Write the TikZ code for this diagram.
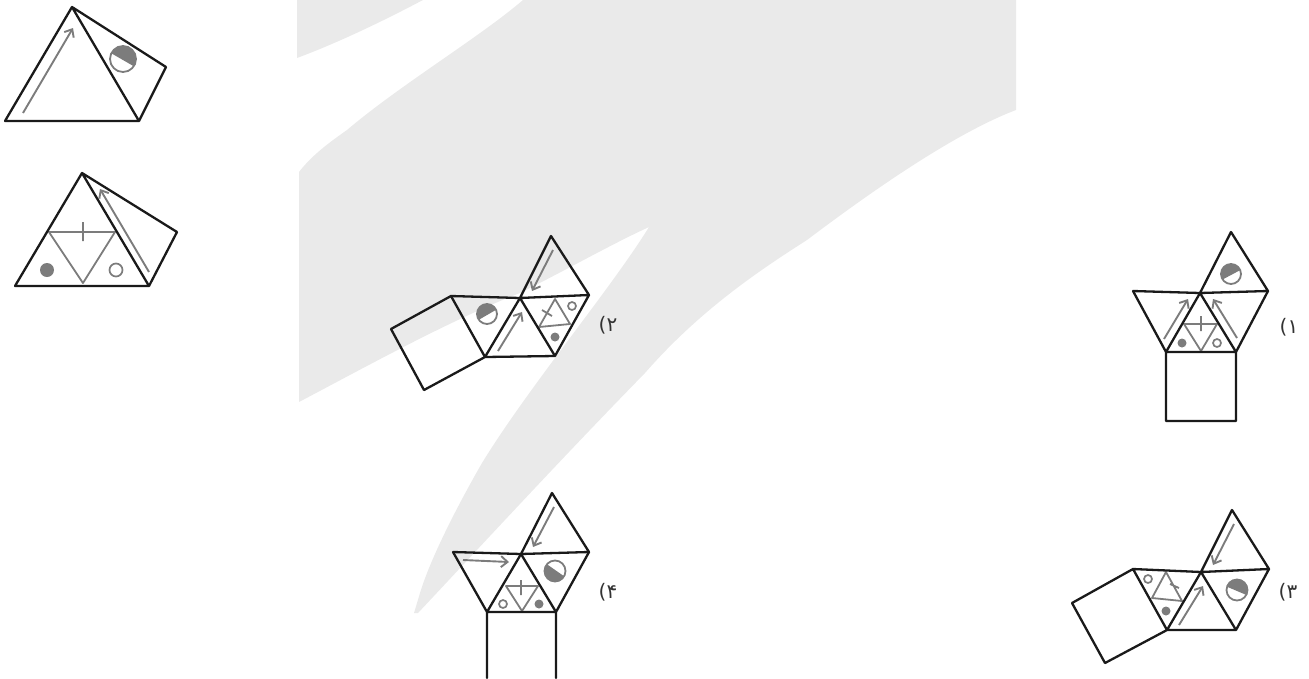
\documentclass[tikz,border=0pt]{standalone}
\usepackage{fontspec}
\usetikzlibrary{arrows.meta}
\newfontfamily\arabicfont[Script=Arabic]{DejaVu Sans}
\TeXXeTstate=1
\definecolor{bgband}{HTML}{EAEAEA}
\definecolor{ink}{HTML}{1A1A1A}
\definecolor{markgray}{HTML}{7C7C7C}
\tikzset{
  figedge/.style={draw=ink,line width=2.3pt,line join=round,line cap=round},
  markline/.style={draw=markgray,line width=1.8pt,line join=round},
  flow/.style={draw=markgray,line width=1.9pt,-{Straight Barb[length=6.5pt,width=11pt,line width=1.9pt]}},
  optlabel/.style={font=\arabicfont\fontsize{20}{20}\selectfont,text=black!80,inner sep=0pt}
}
% half disc: centre, radius, start angle (clockwise on screen)
\newcommand{\hdisc}[4]{%
  \fill[markgray] (#1,#2) ++(#4:#3) arc[start angle=#4,delta angle=180,radius=#3] -- cycle;
  \draw[markgray,line width=1.8pt] (#1,#2) circle[radius=#3];
  \draw[markgray,line width=1.8pt] (#1,#2) ++(#4:#3) -- ++(#4+180:2*#3);
}
\newcommand{\sdot}[3]{\fill[markgray] (#1,#2) circle[radius=#3];}
\newcommand{\ringdot}[3]{\draw[markgray,line width=1.7pt] (#1,#2) circle[radius=#3];}
\begin{document}
\begin{tikzpicture}[x=1pt,y=-1pt]
\useasboundingbox (0,0) rectangle (1309,678);
% background
\fill[bgband] (297,0) -- (297,58) .. controls (340,42) and (385,20) .. (423,0) -- cycle;
\fill[bgband] (523,0) .. controls (480,37) and (400,85) .. (347,130)
  .. controls (330,142) and (312,155) .. (299,172) -- (299,402)
  .. controls (360,370) and (450,320) .. (520,293)
  .. controls (570,268) and (610,245) .. (649,227)
  .. controls (610,290) and (530,385) .. (482,463)
  .. controls (455,510) and (430,560) .. (420,593) -- (414,613) -- (418,613)
  .. controls (480,547) and (560,460) .. (645,373)
  .. controls (700,310) and (760,270) .. (807,240)
  .. controls (860,200) and (950,135) .. (1016,110) -- (1016,0) -- cycle;
% stem figure 1
\coordinate (sa) at (72,7); \coordinate (sl) at (5,121); \coordinate (sr) at (139,121); \coordinate (sf) at (166,67);
\draw[flow] (23,113) -- (73,28);
\hdisc{123}{59}{13}{210}
\draw[figedge] (sa) -- (sl) -- (sr) -- cycle (sa) -- (sf) -- (sr);
% stem figure 2
\coordinate (ta) at (82,173); \coordinate (tl) at (15,286); \coordinate (tr) at (149,286); \coordinate (tf) at (177,232);
\draw[markline] (49,232) -- (115,232) -- (83,283) -- cycle (83,222) -- (83,241);
\sdot{47}{270}{7} \ringdot{116}{270}{6.5}
\draw[flow] (149,272) -- (100,189);
\draw[figedge] (ta) -- (tl) -- (tr) -- cycle (ta) -- (tf) -- (tr);
% option 1
\coordinate (a1) at (1231,232); \coordinate (r1) at (1268,291); \coordinate (c1) at (1200,293); \coordinate (l1) at (1133,291);
\coordinate (bl1) at (1166,352); \coordinate (br1) at (1236,352); \coordinate (ql1) at (1166,421); \coordinate (qr1) at (1236,421);
\draw[markline] (1184,324) -- (1217,324) -- (1201,351) -- cycle (1201,316) -- (1201,331);
\sdot{1182}{343}{4.5} \ringdot{1217}{343}{4}
\hdisc{1231}{274}{10}{152}
\draw[flow] (1164,339) -- (1188,299);
\draw[flow] (1237,338) -- (1213,299);
\draw[figedge] (l1) -- (c1) -- (r1) -- (a1) -- (c1) -- (bl1) -- (br1) -- (c1) (l1) -- (bl1) -- (ql1) -- (qr1) -- (br1) -- (r1);
\node[optlabel] (o1) at (1289,327) {\beginR ۱)\endR};
% option 2
\coordinate (a2) at (551,236); \coordinate (c2) at (520,298); \coordinate (r2) at (589,295); \coordinate (bl2) at (485,357); \coordinate (br2) at (555,356);
\coordinate (ul2) at (451,296); \coordinate (s12) at (391,329); \coordinate (s22) at (424,390);
\draw[markline] (555,299) -- (539,327) -- (570,324) -- cycle (542,310) -- (552,316);
\ringdot{572}{306}{4} \sdot{555}{337}{4.5}
\hdisc{487}{314}{10}{150}
\draw[flow] (498,351) -- (522,312);
\draw[flow] (553,250) -- (532,291);
\draw[figedge] (c2) -- (a2) -- (r2) -- (c2) -- (ul2) -- (s12) -- (s22) -- (bl2) -- (ul2) (bl2) -- (c2) -- (br2) -- (bl2) (br2) -- (r2);
\node[optlabel] (o2) at (608,325) {\beginR ۲)\endR};
% option 3
\coordinate (a3) at (1232,510); \coordinate (c3) at (1201,572); \coordinate (r3) at (1269,569); \coordinate (bl3) at (1167,630); \coordinate (br3) at (1236,630);
\coordinate (ul3) at (1133,569); \coordinate (s13) at (1072,603); \coordinate (s23) at (1105,663);
\draw[markline] (1166,572) -- (1152,598) -- (1182,601) -- cycle (1170,584) -- (1179,588);
\ringdot{1148}{579}{4} \sdot{1166}{611}{4.5}
\hdisc{1237}{590}{10.5}{203}
\draw[flow] (1179,625) -- (1203,586);
\draw[flow] (1234,524) -- (1213,565);
\draw[figedge] (c3) -- (a3) -- (r3) -- (c3) -- (ul3) -- (s13) -- (s23) -- (bl3) -- (ul3) (bl3) -- (c3) -- (br3) -- (bl3) (br3) -- (r3);
\node[optlabel] (o3) at (1288,592) {\beginR ۳)\endR};
% option 4
\coordinate (a4) at (552,493); \coordinate (c4) at (521,554); \coordinate (r4) at (589,552); \coordinate (ul4) at (453,552); \coordinate (bl4) at (487,612); \coordinate (br4) at (556,612);
\coordinate (dl4) at (487,678); \coordinate (dr4) at (556,678);
\draw[markline] (506,586) -- (538,586) -- (522,611) -- cycle (521,580) -- (521,595);
\ringdot{503}{604}{4} \sdot{539}{604}{4.5}
\hdisc{555}{571}{10.5}{35}
\draw[flow] (463,560) -- (509,562);
\draw[flow] (554,507) -- (533,547);
\draw[figedge] (ul4) -- (c4) -- (a4) -- (r4) -- (c4) -- (bl4) -- (br4) -- (c4) (ul4) -- (bl4) (br4) -- (r4) (bl4) -- (dl4) (br4) -- (dr4);
\node[optlabel] (o4) at (608,592) {\beginR ۴)\endR};
\end{tikzpicture}
\end{document}
